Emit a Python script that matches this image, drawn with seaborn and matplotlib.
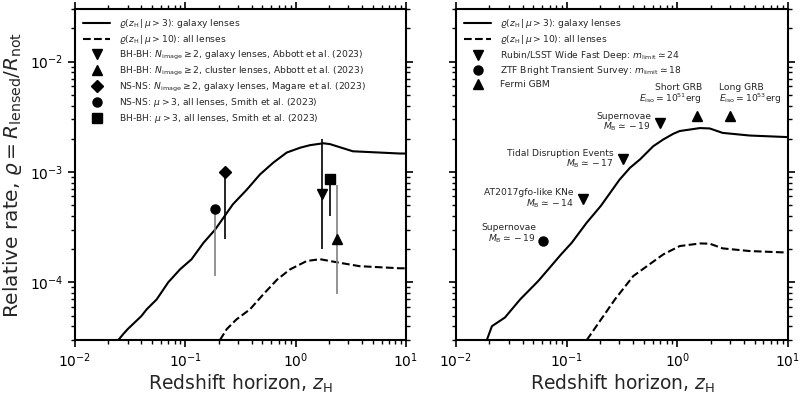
import numpy as np
import pandas as pd
import matplotlib
matplotlib.use("Agg")
import matplotlib.pyplot as plt
import seaborn as sns

# ---------------- data ----------------
# Left panel curves
left_solid_z = [0.0247, 0.0274, 0.030, 0.040, 0.0447, 0.055, 0.070, 0.0895, 0.114, 0.146, 0.186, 0.27, 0.36, 0.475, 0.63, 0.83, 1.1, 1.35, 1.78, 2.04, 3.3, 8.8, 10.0]
left_solid_r = [3.0e-5, 3.4e-5, 3.76e-5, 4.95e-5, 5.7e-5, 7.0e-5, 1.0e-4, 1.31e-4, 1.62e-4, 2.28e-4, 3.0e-4, 5.1e-4, 6.9e-4, 9.5e-4, 1.22e-3, 1.5e-3, 1.66e-3, 1.75e-3, 1.82e-3, 1.79e-3, 1.54e-3, 1.47e-3, 1.47e-3]
left_dash_z = [0.206, 0.237, 0.29, 0.386, 0.51, 0.68, 0.89, 1.26, 1.66, 2.35, 3.8, 8.8, 10.0]
left_dash_r = [3.0e-5, 3.76e-5, 4.6e-5, 5.7e-5, 7.8e-5, 1.06e-4, 1.31e-4, 1.56e-4, 1.62e-4, 1.52e-4, 1.40e-4, 1.34e-4, 1.34e-4]

# Right panel curves
right_solid_z = [0.019, 0.0211, 0.0277, 0.038, 0.0555, 0.089, 0.111, 0.151, 0.204, 0.30, 0.373, 0.46, 0.605, 0.746, 0.92, 1.05, 1.6, 1.96, 2.57, 4.5, 10.0]
right_solid_r = [3.0e-5, 4.0e-5, 4.8e-5, 7.0e-5, 1.03e-4, 1.79e-4, 2.28e-4, 3.45e-4, 4.94e-4, 8.5e-4, 1.09e-3, 1.3e-3, 1.71e-3, 1.97e-3, 2.22e-3, 2.35e-3, 2.5e-3, 2.48e-3, 2.26e-3, 2.14e-3, 2.07e-3]
right_dash_z = [0.152, 0.273, 0.40, 0.746, 1.05, 1.6, 1.96, 2.57, 4.5, 10.0]
right_dash_r = [3.0e-5, 7.0e-5, 1.14e-4, 1.79e-4, 2.13e-4, 2.25e-4, 2.24e-4, 2.03e-4, 1.92e-4, 1.86e-4]

# Left panel measurements (value, lower, upper)
meas_labels = [r"BH-BH: $N_\mathrm{image}\geq 2$, galaxy lenses, Abbott et al. (2023)",
               r"BH-BH: $N_\mathrm{image}\geq 2$, cluster lenses, Abbott et al. (2023)",
               r"NS-NS: $N_\mathrm{image}\geq 2$, galaxy lenses, Magare et al. (2023)",
               r"NS-NS: $\mu>3$, all lenses, Smith et al. (2023)",
               r"BH-BH: $\mu>3$, all lenses, Smith et al. (2023)"]
meas_markers = ["v", "^", "D", "o", "s"]
meas_z = [1.75, 2.39, 0.229, 0.186, 2.04]
meas_val = [6.25e-4, 2.45e-4, 1.0e-3, 4.6e-4, 8.55e-4]
meas_lo = [2.0e-4, 7.9e-5, 2.45e-4, 1.14e-4, 4.0e-4]
meas_hi = [2.0e-3, 7.6e-4, 1.0e-3, 4.6e-4, 8.55e-4]
meas_errcolor = ["black", "0.5", "black", "0.5", "black"]

# Right panel transients
tr_labels = [r"Supernovae" "\n" r"$M_\mathrm{B}\simeq-19$",
             r"Tidal Disruption Events" "\n" r"$M_\mathrm{B}\simeq-17$",
             r"AT2017gfo-like KNe" "\n" r"$M_\mathrm{B}\simeq-14$",
             r"Supernovae" "\n" r"$M_\mathrm{B}\simeq-19$",
             r"Short GRB" "\n" r"$E_\mathrm{iso}=10^{51}$erg",
             r"Long GRB" "\n" r"$E_\mathrm{iso}=10^{53}$erg"]
tr_markers = ["v", "v", "v", "o", "^", "^"]
tr_z = [0.70, 0.32, 0.14, 0.061, 1.5, 3.0]
tr_r = [2.8e-3, 1.3e-3, 5.7e-4, 2.37e-4, 3.2e-3, 3.2e-3]

survey_labels = [r"Rubin/LSST Wide Fast Deep: $m_\mathrm{limit}\simeq 24$",
                 r"ZTF Bright Transient Survey: $m_\mathrm{limit}\simeq 18$",
                 r"Fermi GBM"]
survey_markers = ["v", "o", "^"]

curve_labels = [r"$\varrho(z_\mathrm{H}\,|\,\mu>3)$: galaxy lenses",
                r"$\varrho(z_\mathrm{H}\,|\,\mu>10)$: all lenses"]

# ---------------- style ----------------
sns.set_theme(style="ticks")
plt.rcParams["font.family"] = ["DejaVu Sans"]
plt.rcParams["mathtext.fontset"] = "dejavusans"

fig = plt.figure(figsize=(8.0, 3.96), dpi=100)
W, H = 800.0, 396.0
ax1 = fig.add_axes([75 / W, 1 - 340 / H, (406 - 75) / W, (340 - 9) / H])
ax2 = fig.add_axes([456 / W, 1 - 340 / H, (788 - 456) / W, (340 - 9) / H])


def draw_curves(ax, sz, sr, dz, dr):
    df_s = pd.DataFrame({"z": sz, "r": sr})
    df_d = pd.DataFrame({"z": dz, "r": dr})
    sns.lineplot(data=df_s, x="z", y="r", ax=ax, color="black", lw=1.5,
                 label=curve_labels[0], sort=False, estimator=None)
    sns.lineplot(data=df_d, x="z", y="r", ax=ax, color="black", lw=1.5,
                 ls="--", label=curve_labels[1], sort=False, estimator=None)


draw_curves(ax1, left_solid_z, left_solid_r, left_dash_z, left_dash_r)
draw_curves(ax2, right_solid_z, right_solid_r, right_dash_z, right_dash_r)

# Left panel measurements
for z, v, lo, hi, c in zip(meas_z, meas_val, meas_lo, meas_hi, meas_errcolor):
    ax1.errorbar([z], [v], yerr=[[v - lo], [hi - v]], fmt="none", ecolor=c,
                 elinewidth=1.2, capsize=0, zorder=3)
for z, v, m, lab in zip(meas_z, meas_val, meas_markers, meas_labels):
    ax1.plot([z], [v], ls="none", marker=m, color="black", ms=6.5, zorder=4, label=lab)

# Right panel transients
offsets = [(-9, 0, "right", "center"), (-9, 0, "right", "center"), (-9, 0, "right", "center"),
           (-7, 7, "right", "center"), (5, 10, "right", "bottom"), (-11, 10, "left", "bottom")]
for z, v, m, lab, (dx, dy, ha, va) in zip(tr_z, tr_r, tr_markers, tr_labels, offsets):
    ax2.plot([z], [v], ls="none", marker=m, color="black", ms=6.5, zorder=4)
    ax2.annotate(lab, (z, v), xytext=(dx, dy),
                 textcoords="offset pixels", ha=ha, va=va, fontsize=6.6,
                 multialignment=ha, linespacing=1.0)
for m, lab in zip(survey_markers, survey_labels):
    ax2.plot([], [], ls="none", marker=m, color="black", ms=6.5, label=lab)

for ax in (ax1, ax2):
    ax.set_xscale("log")
    ax.set_yscale("log")
    ax.set_xlim(1e-2, 10)
    ax.set_ylim(3e-5, 3e-2)
    ax.tick_params(which="both", direction="out", top=True, right=True, colors="black")
    ax.tick_params(which="major", length=5, width=1.2, labelsize=10)
    ax.tick_params(which="minor", length=3, width=1.0)
    for s in ax.spines.values():
        s.set_linewidth(1.5)
        s.set_color("black")
    ax.set_xlabel(r"Redshift horizon, $z_\mathrm{H}$", fontsize=13.5, labelpad=1.5)
    ax.legend(loc="upper left", frameon=False, fontsize=6.6, handlelength=2.9,
              labelspacing=0.3, handletextpad=1.0)

ax1.set_ylabel(r"Relative rate, $\varrho = R_\mathrm{lensed}/R_\mathrm{not}$", fontsize=14.5)
ax2.set_ylabel("")
ax2.tick_params(labelleft=False)

fig.savefig("out.png", dpi=100)
